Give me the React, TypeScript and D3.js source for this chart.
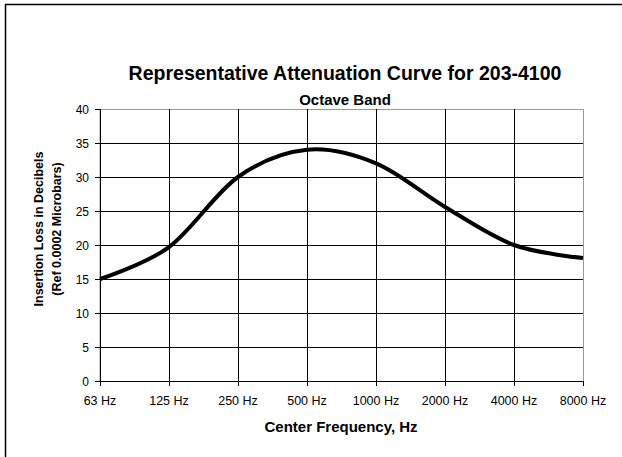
import React from "react";
import * as d3 from "d3";

const frequencies = ["63 Hz", "125 Hz", "250 Hz", "500 Hz", "1000 Hz", "2000 Hz", "4000 Hz", "8000 Hz"];
const insertionLoss = [15, 19.7, 30, 34, 32, 25.6, 20, 18.1];
const yTicks = [0, 5, 10, 15, 20, 25, 30, 35, 40];

const width = 622;
const height = 457;
const plot = { left: 100, right: 583, top: 109, bottom: 381 };
const font = "'Liberation Sans', Arial, sans-serif";

const App: React.FC = () => {
  const x = d3.scalePoint<string>().domain(frequencies).range([plot.left, plot.right]);
  const y = d3.scaleLinear().domain([0, 40]).range([plot.bottom, plot.top]);

  const line = d3
    .line<number>()
    .x((_, i) => x(frequencies[i])!)
    .y((d) => y(d))
    .curve(d3.curveCardinal.tension(0));

  return (
    <svg
      width={width}
      height={height}
      style={{ position: "absolute", left: 0, top: 0, background: "#fff" }}
      fontFamily={font}
    >
      {/* outer frame (only top and left edges visible) */}
      <line x1={5} y1={4.5} x2={width} y2={4.5} stroke="#000" strokeWidth={1.5} />
      <line x1={5.5} y1={4} x2={5.5} y2={height} stroke="#000" strokeWidth={1.5} />

      <text x={345} y={80} textAnchor="middle" fontSize={19.5} fontWeight="bold">
        Representative Attenuation Curve for 203-4100
      </text>
      <text x={345} y={104.5} textAnchor="middle" fontSize={15} fontWeight="bold">
        Octave Band
      </text>

      {/* plot area border */}
      <rect
        x={plot.left}
        y={plot.top + 0.5}
        width={plot.right - plot.left + 0.5}
        height={plot.bottom - plot.top}
        fill="none"
        stroke="#999"
      />

      {/* horizontal gridlines + y ticks */}
      {yTicks.map((t) => (
        <g key={t}>
          {t > 0 && t < 40 && (
            <line x1={plot.left} x2={plot.right} y1={y(t) + 0.5} y2={y(t) + 0.5} stroke="#000" />
          )}
          <line x1={plot.left - 5} x2={plot.left} y1={y(t) + 0.5} y2={y(t) + 0.5} stroke="#000" />
          <text x={plot.left - 11} y={y(t) + 4.5} textAnchor="end" fontSize={12}>
            {t}
          </text>
        </g>
      ))}

      {/* vertical gridlines + x ticks */}
      {frequencies.map((f, i) => (
        <g key={f}>
          {i > 0 && i < frequencies.length - 1 && (
            <line x1={x(f)! + 0.5} x2={x(f)! + 0.5} y1={plot.top} y2={plot.bottom} stroke="#000" />
          )}
          <line x1={x(f)! + 0.5} x2={x(f)! + 0.5} y1={plot.bottom} y2={plot.bottom + 5} stroke="#000" />
          <text x={x(f)!} y={405} textAnchor="middle" fontSize={12.5}>
            {f}
          </text>
        </g>
      ))}

      {/* axes */}
      <line x1={plot.left + 0.5} x2={plot.left + 0.5} y1={plot.top} y2={plot.bottom + 1} stroke="#000" />
      <line x1={plot.left} x2={plot.right + 1} y1={plot.bottom + 0.5} y2={plot.bottom + 0.5} stroke="#000" />

      <path d={line(insertionLoss) ?? ""} fill="none" stroke="#000" strokeWidth={4} strokeLinejoin="round" />

      <text x={341} y={432} textAnchor="middle" fontSize={15} fontWeight="bold">
        Center Frequency, Hz
      </text>
      <g transform="translate(42.5,229) rotate(-90)">
        <text x={0} y={0} textAnchor="middle" fontSize={12.5} fontWeight="bold">
          Insertion Loss in Decibels
        </text>
        <text x={0} y={18} textAnchor="middle" fontSize={12.5} fontWeight="bold">
          (Ref 0.0002 Microbars)
        </text>
      </g>
    </svg>
  );
};

export default App;
